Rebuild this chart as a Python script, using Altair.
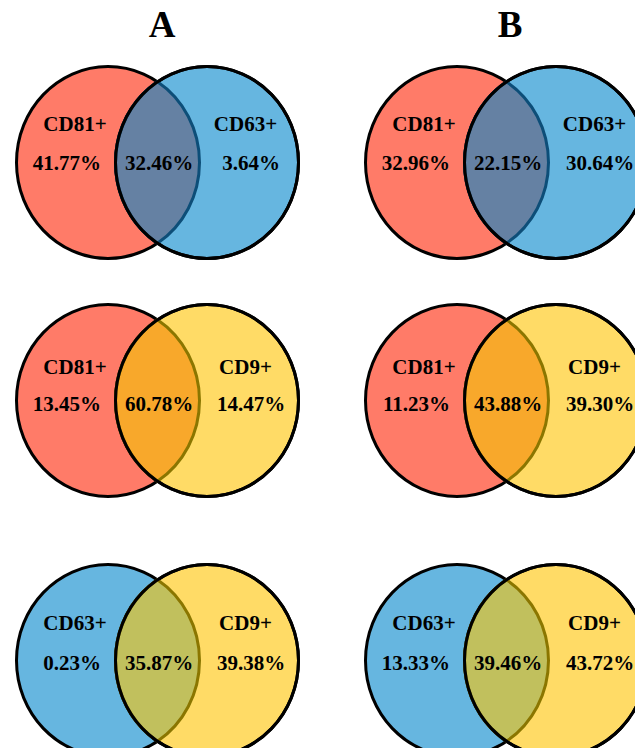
import altair as alt
import pandas as pd

# ---------------- data ----------------
panel_names = ["A", "B"]
set_left = ["CD81+", "CD81+", "CD63+"]
set_right = ["CD63+", "CD9+", "CD9+"]
a_left_only = [41.77, 13.45, 0.23]
a_overlap = [32.46, 60.78, 35.87]
a_right_only = [3.64, 14.47, 39.38]
b_left_only = [32.96, 11.23, 13.33]
b_overlap = [22.15, 43.88, 39.46]
b_right_only = [30.64, 39.30, 43.72]

# ---------------- styles ----------------
set_color = {"CD81+": "#FF7B68", "CD63+": "#66B6E0", "CD9+": "#FFDB66"}
overlap_fill = {("CD81+", "CD63+"): "#6581A3", ("CD81+", "CD9+"): "#F8A82B",
                ("CD63+", "CD9+"): "#C1C05D"}
overlap_edge = {("CD81+", "CD63+"): "#0D4E78", ("CD81+", "CD9+"): "#8B7600",
                ("CD63+", "CD9+"): "#8B7600"}
FONT = "Liberation Serif"

# ---------------- layout (screen pixels) ----------------
col_mid = {"A": 157.5, "B": 506.5}
half_sep = 49.5
row_cy = [162.5, 400.5, 660.5]
label_base = [130.5, 374.0, 630.0]
pct_base = [170.0, 410.5, 670.0]
title_x = {"A": 162, "B": 510}
title_base = 37
rx, ry = 91.5, 96.0

u = rx / ry
ellipse_path = f"M{-u},0A{u},1,0,1,1,{u},0A{u},1,0,1,1,{-u},0Z"
yi = (1 - (half_sep / rx) ** 2) ** 0.5
lens_path = f"M0,{-yi}A{u},1,0,0,0,0,{yi}A{u},1,0,0,0,0,{-yi}Z"
sym_size = (2 * ry) ** 2

vals = {"A": (a_left_only, a_overlap, a_right_only),
        "B": (b_left_only, b_overlap, b_right_only)}

left_rows, right_rows, lens_rows, text_c, text_r = [], [], [], [], []
for p in panel_names:
    lo, ov, ro = vals[p]
    m = col_mid[p]
    lx, rxx = m - half_sep, m + half_sep
    for i in range(3):
        sl, sr = set_left[i], set_right[i]
        cy = row_cy[i]
        left_rows.append({"x": lx, "y": cy, "fill": set_color[sl]})
        right_rows.append({"x": rxx, "y": cy, "fill": set_color[sr]})
        lens_rows.append({"x": m, "y": cy, "fill": overlap_fill[(sl, sr)],
                          "stroke": overlap_edge[(sl, sr)]})
        text_c.append({"x": lx - 33, "y": label_base[i], "t": sl})
        text_c.append({"x": rxx + 38.5, "y": label_base[i], "t": sr})
        text_c.append({"x": m + 1.5, "y": pct_base[i], "t": f"{ov[i]:.2f}%"})
        text_c.append({"x": rxx + 44, "y": pct_base[i], "t": f"{ro[i]:.2f}%"})
        text_r.append({"x": lx - 7, "y": pct_base[i], "t": f"{lo[i]:.2f}%"})

titles = pd.DataFrame({"x": [title_x[p] for p in panel_names],
                       "y": [title_base] * 2, "t": panel_names})

# plot area spans screen pixels 8..635 x 8..748 (page has an 8px margin)
xs = alt.Scale(domain=[8, 635], nice=False, zero=False)
ys = alt.Scale(domain=[8, 748], nice=False, zero=False, reverse=True)
X = alt.X("x:Q", scale=xs, axis=None)
Y = alt.Y("y:Q", scale=ys, axis=None)

left_layer = alt.Chart(pd.DataFrame(left_rows)).mark_point(
    shape=ellipse_path, size=sym_size, filled=True, opacity=1,
    stroke="black", strokeWidth=3, strokeOpacity=1
).encode(x=X, y=Y, fill=alt.Fill("fill:N", scale=None))

right_layer = alt.Chart(pd.DataFrame(right_rows)).mark_point(
    shape=ellipse_path, size=sym_size, filled=True, opacity=1,
    stroke="black", strokeWidth=3, strokeOpacity=1
).encode(x=X, y=Y, fill=alt.Fill("fill:N", scale=None))

lens_layer = alt.Chart(pd.DataFrame(lens_rows)).mark_point(
    shape=lens_path, size=sym_size, filled=True, opacity=1,
    strokeWidth=3, strokeOpacity=1
).encode(x=X, y=Y, fill=alt.Fill("fill:N", scale=None),
         stroke=alt.Stroke("stroke:N", scale=None))

right_edge = alt.Chart(pd.DataFrame(right_rows)).mark_point(
    shape=ellipse_path, size=sym_size, filled=False, opacity=1,
    color="black", strokeWidth=3
).encode(x=X, y=Y)

txt_c = alt.Chart(pd.DataFrame(text_c)).mark_text(
    font=FONT, fontSize=21, fontWeight="bold", color="black",
    align="center", baseline="alphabetic"
).encode(x=X, y=Y, text="t:N")

txt_r = alt.Chart(pd.DataFrame(text_r)).mark_text(
    font=FONT, fontSize=21, fontWeight="bold", color="black",
    align="right", baseline="alphabetic"
).encode(x=X, y=Y, text="t:N")

ttl = alt.Chart(titles).mark_text(
    font=FONT, fontSize=37, fontWeight="bold", color="black",
    align="center", baseline="alphabetic"
).encode(x=X, y=Y, text="t:N")

chart = alt.layer(left_layer, right_layer, lens_layer, right_edge, txt_c, txt_r, ttl).properties(
    width=627, height=740, padding=0,
    autosize=alt.AutoSizeParams(type="none"),
    background="white"
).configure_view(stroke=None)

chart.save("out.html", embed_options={"renderer": "svg", "actions": False})
